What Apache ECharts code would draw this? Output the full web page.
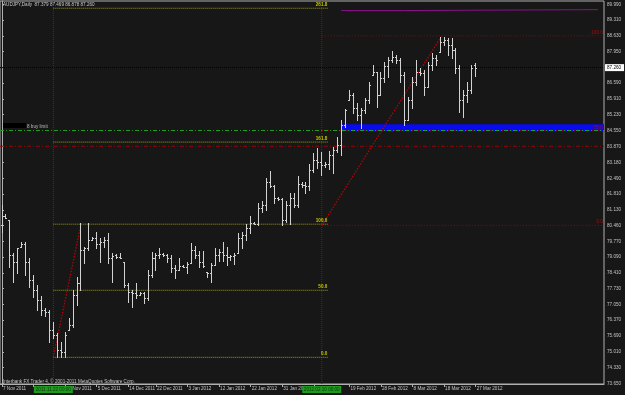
<!DOCTYPE html>
<html><head><meta charset="utf-8">
<script src="https://cdn.jsdelivr.net/npm/echarts@6/dist/echarts.min.js"></script>
<style>html,body{margin:0;padding:0;background:#171717;}#c{width:625px;height:395px;}</style>
</head><body><div id="c"></div>
<script>
// ---- data (AUDJPY daily bars) ----
const barOpen = [80.46,80.85,80.68,79.17,78.87,79.51,79.64,78.87,78.09,77.66,
77.23,76.80,76.71,75.94,75.72,75.07,74.99,75.94,76.15,77.45,
77.96,79.38,79.47,79.82,79.90,79.64,79.73,79.82,79.04,79.17,
79.08,78.87,77.88,77.57,77.53,77.45,77.53,77.32,78.31,79.04,
79.17,79.21,79.17,79.04,78.61,78.52,78.70,78.65,78.82,79.38,
79.17,78.87,78.44,78.39,78.74,79.17,79.30,79.17,79.08,79.13,
79.26,79.90,80.03,80.33,80.55,80.51,81.20,81.32,82.32,82.14,
81.63,81.58,80.68,81.32,81.63,81.32,82.23,82.19,82.14,82.83,
83.26,83.18,83.05,83.09,83.48,83.70,83.91,84.77,85.85,86.07,
85.51,85.20,85.42,85.85,86.93,87.06,86.07,86.80,87.32,87.58,
87.70,87.58,86.93,84.99,85.85,86.63,87.06,87.01,86.41,87.36,
87.66,87.92,88.35,88.44,88.22,88.01,87.23,85.85,86.07,86.28,
87.379];
const barHigh = [81.32,80.94,80.68,79.26,79.47,79.73,79.73,79.04,78.31,77.88,
77.40,76.88,76.80,76.28,75.81,75.42,75.85,76.45,77.66,78.22,
80.55,79.51,80.55,79.94,80.16,79.90,79.94,80.12,79.26,79.21,
79.26,78.87,77.96,77.66,77.96,77.57,77.57,78.52,79.30,79.26,
79.47,79.26,79.21,79.17,78.74,79.04,78.74,78.87,79.69,79.56,
79.34,79.34,78.44,78.82,79.47,79.43,79.73,79.51,79.17,79.26,
80.12,80.16,80.51,80.85,80.59,81.41,81.50,82.49,82.79,82.19,
81.67,81.63,81.50,81.84,81.84,82.57,82.32,82.32,83.09,83.57,
83.78,83.61,83.18,83.65,83.82,84.26,84.99,85.46,86.28,86.15,
85.72,85.51,85.94,86.63,87.36,87.06,87.06,87.49,87.70,87.96,
87.79,87.66,87.06,85.98,86.84,87.58,87.23,87.14,87.49,87.88,
87.79,88.57,88.57,88.52,88.52,88.09,87.36,86.28,86.63,87.36,
87.469];
const barLow = [80.16,80.76,78.65,78.01,78.39,79.51,78.31,77.79,77.36,76.80,
76.58,76.54,75.42,75.59,74.77,74.77,74.77,75.94,76.07,77.01,
77.66,78.82,79.38,79.82,79.47,78.87,79.51,78.82,78.01,79.04,
79.04,77.79,77.14,76.93,77.32,77.45,77.10,77.23,78.22,78.52,
79.04,79.13,78.87,78.44,78.18,78.52,78.65,78.39,78.82,79.04,
78.65,78.65,78.22,78.01,78.74,78.91,78.91,78.74,78.95,78.78,
79.26,79.47,79.82,80.12,80.51,80.46,81.02,81.11,82.10,81.41,
81.54,80.46,80.59,80.51,81.24,81.24,82.10,81.84,81.97,82.75,
82.92,82.62,82.96,82.88,82.70,83.61,83.48,84.69,85.85,85.29,
84.99,84.64,85.29,85.72,86.93,85.55,86.07,86.63,86.84,87.49,
87.45,86.63,84.77,84.99,85.51,86.50,86.93,86.07,86.41,87.14,
87.36,87.92,88.22,87.79,87.66,87.01,85.33,85.12,85.76,86.15,
86.878];
const barClose = [80.85,80.76,79.17,78.87,79.47,79.64,78.87,78.09,77.66,77.23,
76.80,76.71,75.94,75.72,75.07,74.99,75.72,76.15,77.45,77.96,
79.38,79.47,79.82,79.90,79.64,79.73,79.82,79.04,79.13,79.08,
79.04,77.88,77.57,77.53,77.45,77.53,77.32,78.31,79.04,79.17,
79.21,79.17,79.04,78.61,78.52,78.70,78.65,78.78,79.38,79.17,
78.87,78.70,78.39,78.74,79.17,79.30,79.17,79.08,79.13,79.17,
79.90,80.03,80.33,80.55,80.51,81.20,81.32,82.32,82.14,81.63,
81.58,80.68,81.32,81.63,81.32,82.23,82.19,82.14,82.83,83.26,
83.18,83.05,83.09,83.48,83.70,83.91,84.77,85.42,86.07,85.51,
85.20,85.42,85.85,86.50,87.06,86.07,86.80,87.32,87.58,87.70,
87.58,86.93,84.99,85.85,86.63,87.06,87.01,86.41,87.36,87.66,
87.58,88.35,88.44,88.22,88.01,87.23,85.85,86.07,86.28,87.23,
87.26];

const dateTicks  = [0,8,16,24,32,39,47,55,63,71,79,88,96,104,112,120];
const dateLabels = ['7 Nov 2011','16 Nov 2011','25 Nov 2011','5 Dec 2011','14 Dec 2011','22 Dec 2011',
  '3 Jan 2012','12 Jan 2012','22 Jan 2012','31 Jan 2012','9 Feb 2012','19 Feb 2012','28 Feb 2012',
  '8 Mar 2012','18 Mar 2012','27 Mar 2012'];
const priceTicks = [89.99,89.31,88.63,87.95,86.59,85.91,85.23,84.55,83.87,83.18,82.49,81.81,
  81.13,80.46,79.77,79.09,78.41,77.73,77.05,76.37,75.69,75.01,74.33,73.65];

const vLineBars   = [13, 81];
const vLineLabels = ['2011.11.22 00:00', '2012.02.10 00:00'];

const fibExpLevels = [74.77, 77.66, 80.51, 84.05, 89.82];
const fibExpNames  = ['0.0', '50.0', '100.0', '161.8', '261.8'];
const fibExpStart = 13, fibExpEnd = 82.6;
const fibExpBase = [[13, 74.77], [20, 80.51]];

const fibRetLevels = [80.46, 84.55, 88.63];
const fibRetNames  = ['0.0', '50.0', '100.0'];
const fibRetStart = 81;
const fibRetDiag = [[81, 80.46], [111.4, 88.63]];

const bidPrice = 87.26;
const stopLevel = 83.87;
const buyLimit = 84.55;
const zone = {x0: 85.9, top: 84.82, bottom: 84.52};
const magenta = [[85.9, 89.72], [102, 89.72], [102, 89.76], [151, 89.76]];

const X_MIN = -0.5, X_MAX = 152.5, Y_MIN = 73.62, Y_MAX = 90.132;
const FONT = '4.6px "Liberation Sans", Arial, sans-serif';

function seg(data, color, type, z, w) {
  return {type: 'line', data: data, symbol: 'none', silent: true, animation: false,
    lineStyle: {color: color, type: type, width: w || 1}, z: z || 3};
}
function texts(items, color, align, vAlign, bold, z) {
  return {type: 'custom', silent: true, clip: false, animation: false, z: z || 6,
    data: items.map(d => [d[0], d[1]]),
    renderItem: (p, api) => {
      const pt = api.coord([api.value(0), api.value(1)]);
      return {type: 'text', x: pt[0], y: pt[1],
        style: {text: items[p.dataIndex][2], fill: color, font: (bold ? 'bold ' : '') + FONT,
          align: align, verticalAlign: vAlign}};
    }};
}

const series = [];
vLineBars.forEach(b => series.push(seg([[b, Y_MIN], [b, Y_MAX]], '#1d4a1d', [1, 1], 2)));
fibExpLevels.forEach(v => series.push(seg([[fibExpStart, v], [fibExpEnd, v]], '#a0a000', [1, 1], 3)));
series.push(seg(fibExpBase, '#c00000', [1.5, 1.5], 3, 1.2));
series.push(texts(fibExpLevels.map((v, i) => [fibExpEnd - 0.2, v + 0.03, fibExpNames[i]]), '#c8c800', 'right', 'bottom', true));
fibRetLevels.forEach(v => series.push(seg([[fibRetStart, v], [X_MAX, v]], '#9a0000', [1, 2], 3)));
series.push(seg(fibRetDiag, '#c00000', [1.5, 1.5], 3, 1.2));
series.push(seg([[X_MIN, stopLevel], [X_MAX, stopLevel]], '#a00000', [4, 2, 1, 2], 3));
series.push({type: 'custom', silent: true, animation: false, z: 3,
  data: [[zone.x0, zone.top, X_MAX, zone.bottom]],
  renderItem: (p, api) => {
    const a = api.coord([api.value(0), api.value(1)]);
    const b = api.coord([api.value(2), api.value(3)]);
    return {type: 'rect', shape: {x: a[0], y: a[1], width: b[0] - a[0], height: b[1] - a[1]},
      style: {fill: '#0a0aee'}};
  }});
series.push(seg([[X_MIN, buyLimit], [X_MAX, buyLimit]], '#22a022', [4, 2, 1, 2], 4));
series.push(texts(fibRetLevels.map((v, i) => [X_MAX - 0.3, v + 0.03, fibRetNames[i]]),
  '#a01010', 'right', 'bottom', false, 7));
series.push(seg(magenta, '#8a108a', 'solid', 4));
series.push({type: 'line', data: [[X_MIN, bidPrice], [X_MAX, bidPrice]], symbol: 'none', silent: true,
  animation: false, z: 4, lineStyle: {color: '#000000', type: [1, 1], width: 1},
  endLabel: {show: true, formatter: bidPrice.toFixed(3), backgroundColor: '#ffffff', color: '#000000',
    fontSize: 4.6, fontFamily: 'Liberation Sans', padding: [1, 3, 1, 2], distance: 1}});
series.push({type: 'custom', silent: true, animation: false, z: 5,
  data: barHigh.map((h, i) => [i, barOpen[i], h, barLow[i], barClose[i]]),
  encode: {x: 0, y: [2, 3]},
  renderItem: (p, api) => {
    const i = api.value(0);
    const h = api.coord([i, api.value(2)]);
    const l = api.coord([i, api.value(3)]);
    const o = api.coord([i, api.value(1)]);
    const c = api.coord([i, api.value(4)]);
    const xi = Math.floor(h[0]);
    const col = '#d2d2d2';
    const yh = Math.round(h[1]), yl = Math.round(l[1]);
    return {type: 'group', children: [
      {type: 'rect', shape: {x: xi, y: yh, width: 1, height: Math.max(1, yl - yh + 1)}, style: {fill: col}},
      {type: 'rect', shape: {x: xi - 1, y: Math.round(o[1]), width: 1, height: 1}, style: {fill: col}},
      {type: 'rect', shape: {x: xi + 1, y: Math.round(c[1]), width: 1, height: 1}, style: {fill: col}}
    ]};
  }});
series.push({type: 'custom', silent: true, clip: false, animation: false, z: 8,
  data: vLineBars.map(b => [b, Y_MIN]),
  renderItem: (p, api) => {
    const pt = api.coord([api.value(0), api.value(1)]);
    return {type: 'group', children: [
      {type: 'rect', shape: {x: pt[0] - 19.5, y: pt[1] + 2, width: 39, height: 7}, style: {fill: '#1f9a1f'}},
      {type: 'text', x: pt[0], y: pt[1] + 5.6, style: {text: vLineLabels[p.dataIndex], fill: '#0c3a0c',
        font: FONT, align: 'center', verticalAlign: 'middle'}}
    ]};
  }});

const chart = echarts.init(document.getElementById('c'), null, {renderer: 'canvas'});
chart.setOption({
  backgroundColor: '#171717',
  animation: false,
  grid: {left: 0, right: 21, top: 1, height: 383, show: true, borderColor: '#b0b0b0', borderWidth: 1,
    backgroundColor: 'transparent'},
  xAxis: {type: 'value', min: X_MIN, max: X_MAX,
    axisLine: {show: true, lineStyle: {color: '#b0b0b0'}},
    axisTick: {show: true, customValues: dateTicks, length: 3, lineStyle: {color: '#b0b0b0'}},
    axisLabel: {customValues: dateTicks, formatter: v => dateLabels[dateTicks.indexOf(v)] || '',
      color: '#c4c4c4', fontSize: 4.6, fontFamily: 'Liberation Sans', align: 'left', margin: 2, padding: [0, 0, 0, 1],
      hideOverlap: false},
    splitLine: {show: false}},
  yAxis: {type: 'value', position: 'right', min: Y_MIN, max: Y_MAX,
    axisLine: {show: true, lineStyle: {color: '#b0b0b0'}},
    axisTick: {show: true, customValues: priceTicks, length: 2, lineStyle: {color: '#b0b0b0'}},
    axisLabel: {customValues: priceTicks, formatter: v => v.toFixed(3), color: '#c4c4c4',
      fontSize: 4.6, fontFamily: 'Liberation Sans', margin: 3, align: 'left'},
    splitLine: {show: false}},
  graphic: [
    {type: 'text', x: 3, y: 5, style: {text: 'AUDJPY,Daily  87.379 87.469 86.878 87.260', fill: '#c8c8c8',
      font: FONT, verticalAlign: 'middle'}},
    {type: 'text', x: 3, y: 382, style: {text: 'Interbank FX Trader 4, \u00a9 2001-2011 MetaQuotes Software Corp.',
      fill: '#c8c8c8', font: FONT, verticalAlign: 'middle'}},
    {type: 'rect', shape: {x: 2, y: 123, width: 24, height: 5}, style: {fill: '#000000'}},
    {type: 'text', x: 27, y: 127, style: {text: '8 buy limit', fill: '#bdbdbd', font: FONT, verticalAlign: 'middle'}}
  ],
  series: series
});
</script></body></html>
